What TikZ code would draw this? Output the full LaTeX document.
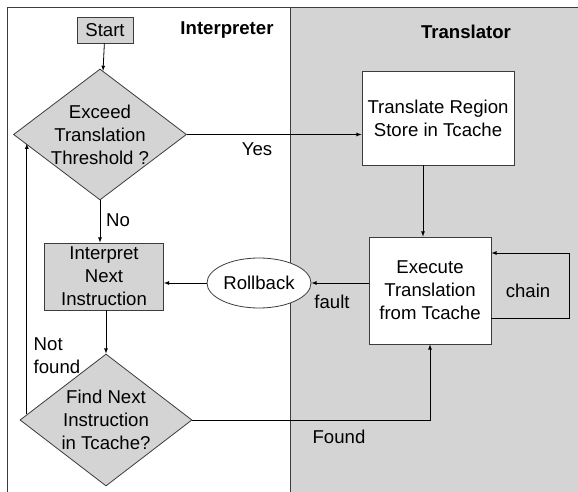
\documentclass[tikz,border=0pt]{standalone}
\usepackage{fontspec}
\setmainfont{Liberation Sans}
\usetikzlibrary{shapes.geometric}

\definecolor{lanegray}{RGB}{212,212,212}
\definecolor{edgegray}{RGB}{60,60,60}

\begin{document}
\begin{tikzpicture}[x=1pt,y=-1pt,>=latex,line width=0.8pt,
    every node/.style={font=\fontsize{18.6}{23}\selectfont},
    lane/.style={font=\fontsize{18.6}{23}\selectfont\bfseries},
    proc/.style={draw=edgegray,fill=lanegray,align=center,inner sep=0pt},
    tbox/.style={draw=edgegray,fill=white,align=center,inner sep=0pt},
    decision/.style={diamond,draw=edgegray,fill=lanegray,inner sep=0pt}]
    \useasboundingbox (0,0) rectangle (578,492);
    % lanes
    \fill[lanegray] (290.5,7) rectangle (578,492);
    \draw[edgegray] (7,492) -- (7,7) -- (578,7);
    \draw[edgegray] (290.5,7) -- (290.5,492);
    \node[lane] (interp) at (227,30) {Interpreter};
    \node[lane] (transl) at (466,32) {Translator};
    % interpreter side
    \node[proc,minimum width=56pt,minimum height=26pt] (start) at (105,30) {Start};
    \node[decision,minimum width=173pt,minimum height=131pt,
      label={[align=center]center:Exceed\\Translation\\Threshold ?}] (exceed) at (100,134.5) {};
    \node[proc,minimum width=119pt,minimum height=67pt] (interpret) at (104,276.5) {Interpret\\Next\\Instruction};
    \node[decision,minimum width=172pt,minimum height=132pt,
      label={[align=center]center:Find Next\\Instruction\\in Tcache?}] (find) at (106,420) {};
    % translator side
    \node[tbox,minimum width=152pt,minimum height=94pt] (translate) at (438,118) {Translate Region\\Store in Tcache};
    \node[tbox,minimum width=122pt,minimum height=107pt] (execute) at (430,290.5) {Execute\\Translation\\from Tcache};
    \node[ellipse,draw=edgegray,fill=white,inner sep=0pt,minimum width=104pt,minimum height=50pt] (rollback) at (259,283) {Rollback};
    % connectors
    \draw[->] (start) -- (exceed);
    \draw[->] (exceed.east) -- (exceed.east -| translate.west);
    \draw[->] (exceed.south) -- (exceed.south |- interpret.north);
    \draw[->] (find.north |- interpret.south) -- (find.north);
    \draw[->] ([xshift=-7pt]execute.north |- translate.south) -- ([xshift=-7pt]execute.north);
    \draw[->] (execute.west |- rollback.east) -- (rollback.east);
    \draw[->] (rollback.west) -- (rollback.west -| interpret.east);
    \draw[->] ([yshift=-27.5pt]execute.east) -- ++(78,0) |- ([yshift=37.5pt]execute.east);
    \draw[->] (find.east) -| (execute.south);
    \draw[->] (find.176.7) -- (find.176.7 |- exceed.187.3);
    % labels
    \node (yes) at (257,149) {Yes};
    \node (no) at (118,220) {No};
    \node (fault) at (332,302) {fault};
    \node (chain) at (528,291) {chain};
    \node (found) at (339,437) {Found};
    \node[anchor=west,align=left] (notfound) at (30,356) {Not\\found};
\end{tikzpicture}
\end{document}
